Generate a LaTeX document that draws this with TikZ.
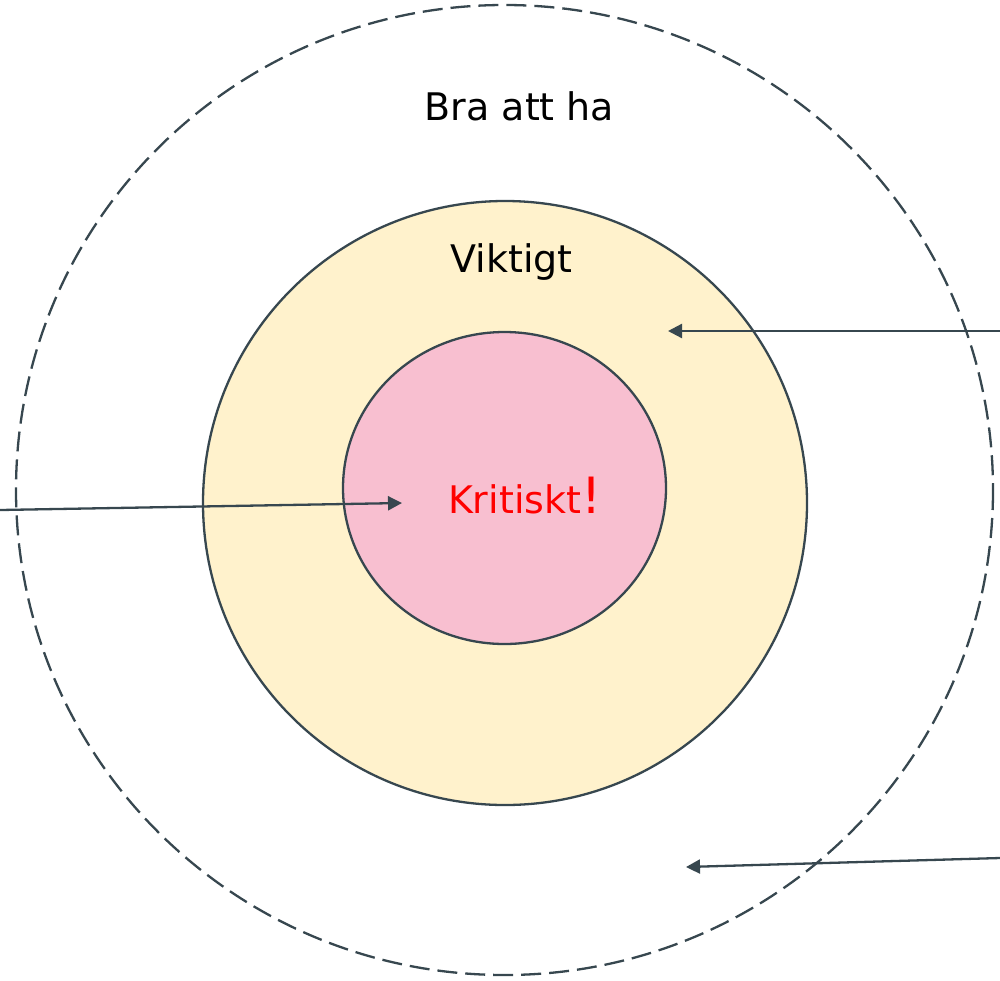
\documentclass[tikz,border=0pt]{standalone}
\usepackage{fontspec}
\setmainfont{DejaVu Sans}
\usetikzlibrary{arrows.meta,positioning}
\definecolor{linegray}{HTML}{37474F}
\definecolor{viktigfill}{HTML}{FFF2CC}
\definecolor{kritiskfill}{HTML}{F8BFD0}
\begin{document}
\begin{tikzpicture}
[x=1pt, y=-1pt, line width=2.3pt, draw=linegray,
>={Triangle[length=14pt,width=14pt]},
ring/.style={draw=linegray, line width=2.3pt},
label/.style={font=\fontsize{38}{44}\selectfont, anchor=base, inner sep=0pt},
pointer/.style={->, draw=linegray, line width=2.3pt}]

\useasboundingbox (0,0) rectangle (1000,980);

% rings
\draw[ring, dash pattern=on 20pt off 8pt] (504.5,490) ellipse [x radius=488.5, y radius=485];
\draw[ring, fill=viktigfill] (505,503) circle [radius=302];
\draw[ring, fill=kritiskfill] (504.5,488) ellipse [x radius=161.5, y radius=156];

% labels
\node[label] (bra) at (519.5,120.7) {Bra att ha};
\node[label] (viktigt) at (511.7,272.7) {Viktigt};
\node[label, text=red] (kritiskt) at (524.7,513) {Kritiskt{\fontsize{50}{56}\selectfont!}};

% pointers
\coordinate (p1) at (1000,331);
\coordinate (t1) at (668,331);
\coordinate (p2) at (0,510);
\coordinate (t2) at (402,503);
\coordinate (p3) at (1000,858);
\coordinate (t3) at (686,867);
\draw[pointer] (p1) -- (t1);
\draw[pointer] (p2) -- (t2);
\draw[pointer] (p3) -- (t3);
\end{tikzpicture}
\end{document}
